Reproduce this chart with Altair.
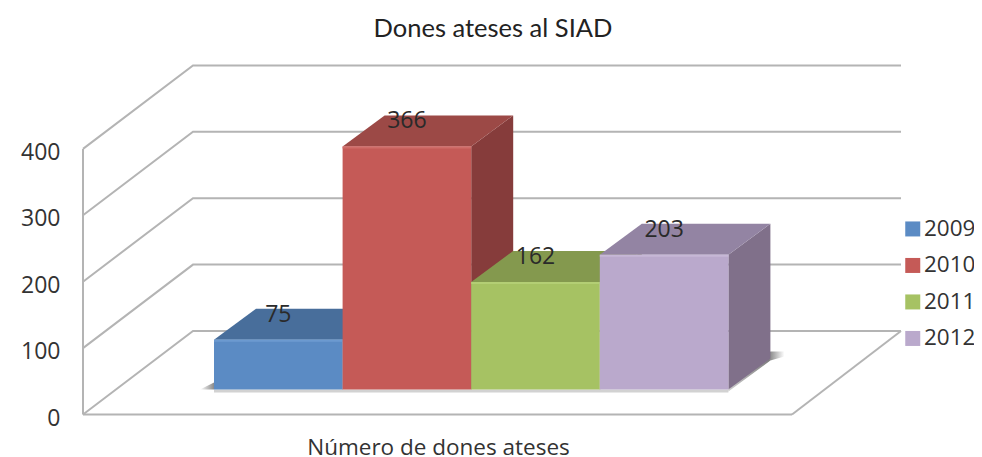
import altair as alt
import pandas as pd

# Chart values
years = ["2009", "2010", "2011", "2012"]
values = [75, 366, 162, 203]
grid_levels = [0, 100, 200, 300, 400]

# Colours
front_colors = ["#5B8BC4", "#C55A57", "#A6C263", "#BAA9CC"]
top_colors = ["#486E9B", "#9C4946", "#84994E", "#9384A3"]
side_colors = ["#3F6188", "#863C3B", "#73863F", "#80708A"]
highlight_colors = ["#6C9AD0", "#D06C69", "#B3CE74", "#C6B7D6"]
grid_color = "#B4B4B4"
text_color = "#333333"

# Projection (screen units per value and per depth)
U = 0.664
PLOT_W, PLOT_H = 818, 348.8
WALL_DX, WALL_DY = 110, 83.5
BAR_DX, BAR_DY = 42, 31
BAR_BASE = 25 / U
BAR_LEFT, BAR_W = 131, 128.6


def u(px):
    return px / U


layers = []
x_scale = alt.Scale(domain=[0, PLOT_W], nice=False, zero=False)
y_scale = alt.Scale(domain=[0, PLOT_H / U], nice=False, zero=False)
x_hidden = alt.Axis(title="Número de dones ateses", labels=False, ticks=False, domain=False, grid=False,
                    titleFontSize=22.5, titleFont="Open Sans", titleFontWeight="normal", titleColor=text_color,
                    titleX=355, titleY=40, titleAlign="center", titleBaseline="alphabetic")
y_axis = alt.Axis(title=None, values=grid_levels, labelFontSize=23, labelFont="Open Sans", labelColor=text_color,
                  labelPadding=23, labelOffset=3.5, ticks=False, domain=False, grid=False, format="d")


def X(f="x"):
    return alt.X(f"{f}:Q", scale=x_scale, axis=x_hidden)


def Y(f="y"):
    return alt.Y(f"{f}:Q", scale=y_scale, axis=y_axis)


# Walls and floor
for lv in grid_levels:
    df = pd.DataFrame({"x": [0, WALL_DX, PLOT_W], "y": [lv, lv + u(WALL_DY), lv + u(WALL_DY)]})
    layers.append(alt.Chart(df).mark_line(color=grid_color, strokeWidth=2).encode(x=X(), y=Y(), order="x:Q"))
floor_right = 709
edges = [
    {"x": [0, 0], "y": [0, 400]},
    {"x": [0, floor_right], "y": [0, 0]},
    {"x": [floor_right, PLOT_W], "y": [0, u(WALL_DY)]},
]
for e in edges:
    layers.append(alt.Chart(pd.DataFrame(e)).mark_line(color=grid_color, strokeWidth=2).encode(x=X(), y=Y()))

# Shadows on the floor
sh_l = BAR_LEFT
sh_r = BAR_LEFT + 4 * BAR_W
shadow_grad = alt.Gradient(gradient="linear", x1=0, x2=1, y1=0, y2=0,
                           stops=[alt.GradientStop(offset=0, color="#ffffff"), alt.GradientStop(offset=1, color="#8a8a8a")])
shadow_grad_r = alt.Gradient(gradient="linear", x1=0, x2=1, y1=0, y2=0,
                             stops=[alt.GradientStop(offset=0, color="#cfcfcf"), alt.GradientStop(offset=0.72, color="#808080"),
                                    alt.GradientStop(offset=1, color="#ffffff")])
layers.append(alt.Chart(pd.DataFrame({"x": [sh_l - 14, sh_l], "y": [BAR_BASE, BAR_BASE + u(7)], "y2": [BAR_BASE, BAR_BASE]}))
              .mark_area(color=shadow_grad).encode(x=X(), y=Y(), y2="y2:Q"))
layers.append(alt.Chart(pd.DataFrame({"x": [sh_l, sh_r], "y": [BAR_BASE, BAR_BASE], "y2": [BAR_BASE - u(3), BAR_BASE - u(3)]}))
              .mark_area(color="#D2D2D2").encode(x=X(), y=Y(), y2="y2:Q"))
layers.append(alt.Chart(pd.DataFrame({"x": [sh_r, sh_r + BAR_DX, sh_r + BAR_DX + 14],
                                      "y": [BAR_BASE, BAR_BASE + u(BAR_DY + 7), BAR_BASE + u(BAR_DY + 7)],
                                      "y2": [BAR_BASE - u(2), BAR_BASE + u(BAR_DY - 2), BAR_BASE + u(BAR_DY + 2)]}))
              .mark_area(color=shadow_grad_r).encode(x=X(), y=Y(), y2="y2:Q"))

# Bars: drawn left to right so each one covers its neighbour's depth faces
for i, (yr, v) in enumerate(zip(years, values)):
    xl = BAR_LEFT + i * BAR_W
    xr = xl + BAR_W
    top = BAR_BASE + v
    side = pd.DataFrame({"x": [xr, xr + BAR_DX], "y": [top, top + u(BAR_DY)], "y2": [BAR_BASE, BAR_BASE + u(BAR_DY)]})
    layers.append(alt.Chart(side).mark_area(color=side_colors[i]).encode(x=X(), y=Y(), y2="y2:Q"))
    topf = pd.DataFrame({"x": [xl, xl + BAR_DX], "x2": [xr, xr + BAR_DX], "y": [top, top + u(BAR_DY)]})
    layers.append(alt.Chart(topf).mark_area(color=top_colors[i], orient="horizontal").encode(x=X(), x2="x2:Q", y=Y()))
    front = pd.DataFrame({"Any": [yr], "x": [xl], "x2": [xr], "y": [top], "y2": [BAR_BASE]})
    layers.append(alt.Chart(front).mark_rect(strokeWidth=0).encode(
        x=X(), x2="x2:Q", y=Y(), y2="y2:Q",
        color=alt.Color("Any:N", scale=alt.Scale(domain=years, range=front_colors),
                        legend=alt.Legend(title=None, orient="none", legendX=818.5, legendY=152, symbolType="square",
                                          symbolSize=225, symbolStrokeWidth=0, labelFontSize=22.5, labelFont="Open Sans",
                                          labelColor=text_color, rowPadding=13.5, labelOffset=0, values=years))))
    hl = pd.DataFrame({"x": [xl], "x2": [xr], "y": [top], "y2": [top - u(2)]})
    layers.append(alt.Chart(hl).mark_rect(color=highlight_colors[i]).encode(x=X(), x2="x2:Q", y=Y(), y2="y2:Q"))

# Value labels
labels = pd.DataFrame({"x": [BAR_LEFT + (i + 0.5) * BAR_W for i in range(4)], "y": values,
                       "txt": [str(v) for v in values]})
labels["y"] = labels["y"] + BAR_BASE
layers.append(alt.Chart(labels).mark_text(fontSize=23, font="Open Sans", color="#2a2a2a", dy=-25, baseline="middle")
              .encode(x=X(), y=Y(), text="txt:N"))

chart = alt.layer(*layers).properties(
    width=PLOT_W, height=PLOT_H,
    padding={"left": 75, "top": 57.7, "right": 73, "bottom": 42.5},
    autosize=alt.AutoSizeParams(type="none"),
    title=alt.TitleParams("Dones ateses al SIAD", font="Lato", fontSize=25.5, fontWeight="normal", color="#222222",
                          anchor="middle", offset=19, dx=1),
).resolve_scale(color="shared").configure_view(stroke=None)

chart.save("out.html", embed_options={"renderer": "svg", "actions": False})
